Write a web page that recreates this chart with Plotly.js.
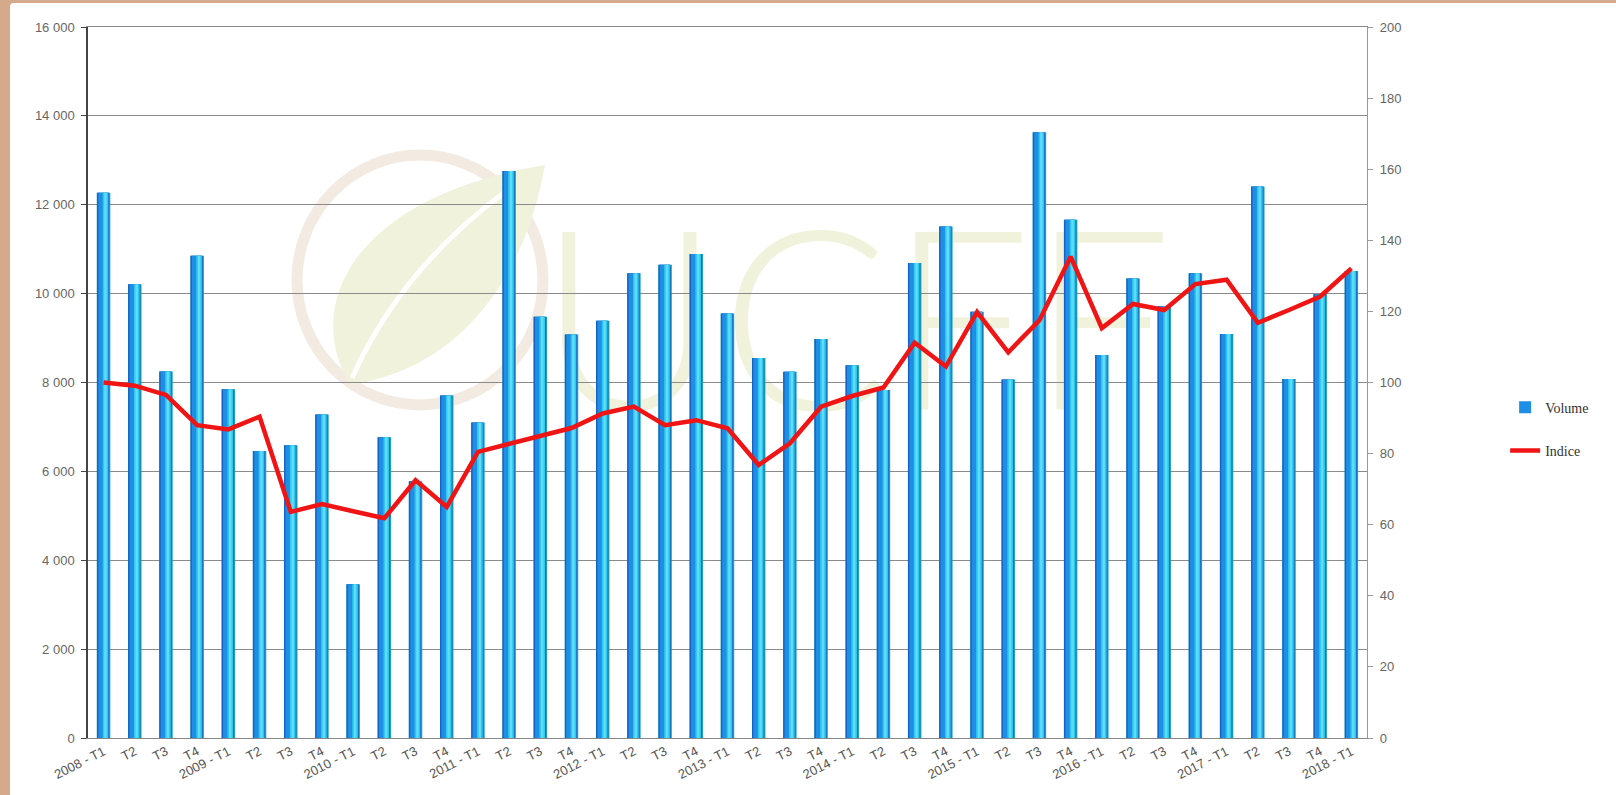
<!DOCTYPE html>
<html>
<head>
<meta charset="utf-8">
<script src="https://cdn.plot.ly/plotly-3.0.1.min.js"></script>
<style>
  html, body { margin: 0; padding: 0; background: #d4a98c; width: 1616px; height: 795px; overflow: hidden; }
  #chart { position: absolute; left: 10px; top: 3px; width: 1606px; height: 792px; background: #fff; border-top-left-radius: 4px; }
</style>
</head>
<body>
<div id="chart"></div>
<script>
// ---- data ----
const periods = [
  '2008-T1','2008-T2','2008-T3','2008-T4',
  '2009-T1','2009-T2','2009-T3','2009-T4',
  '2010-T1','2010-T2','2010-T3','2010-T4',
  '2011-T1','2011-T2','2011-T3','2011-T4',
  '2012-T1','2012-T2','2012-T3','2012-T4',
  '2013-T1','2013-T2','2013-T3','2013-T4',
  '2014-T1','2014-T2','2014-T3','2014-T4',
  '2015-T1','2015-T2','2015-T3','2015-T4',
  '2016-T1','2016-T2','2016-T3','2016-T4',
  '2017-T1','2017-T2','2017-T3','2017-T4',
  '2018-T1'
];
const tickLabels = [
  '2008 - T1','T2','T3','T4',
  '2009 - T1','T2','T3','T4',
  '2010 - T1','T2','T3','T4',
  '2011 - T1','T2','T3','T4',
  '2012 - T1','T2','T3','T4',
  '2013 - T1','T2','T3','T4',
  '2014 - T1','T2','T3','T4',
  '2015 - T1','T2','T3','T4',
  '2016 - T1','T2','T3','T4',
  '2017 - T1','T2','T3','T4',
  '2018 - T1'
];
const volume = [
  12270, 10210, 8250, 10850,
  7850, 6460, 6590, 7280,
  3460, 6770, 5780, 7710,
  7100, 12760, 9480, 9080,
  9390, 10460, 10650, 10890,
  9550, 8550, 8240, 8980,
  8390, 7830, 10690, 11510,
  9590, 8070, 13630, 11660,
  8620, 10340, 9720, 10460,
  9090, 12410, 8080, 9990,
  10510
];
const indice = [
  100, 99.1, 96.5, 88.0,
  86.8, 90.4, 63.6, 65.8,
  63.8, 61.8, 72.5, 65.0,
  80.5, 82.7, 84.7, 87.2,
  91.3, 93.2, 88.0, 89.4,
  87.1, 76.8, 82.9, 93.2,
  96.2, 98.6, 111.2, 104.5,
  119.8, 108.5, 117.5, 135.4,
  115.3, 122.1, 120.4, 127.7,
  128.9, 116.8, 120.4, 124.2,
  132.1
];
const leftTicks = [0, 2000, 4000, 6000, 8000, 10000, 12000, 14000, 16000];

// ---- cylinder-like bars built from layered bar traces ----
const layers = [
  {offset: -0.215, width: 0.43, color: '#1b9fb2', legend: false},
  {offset: -0.215, width: 0.39, color: '#1662c4', legend: false},
  {offset: -0.17,  width: 0.32, color: '#1e8fe4', legend: true},
  {offset: -0.03,  width: 0.18, color: '#2fc6ef', legend: false},
  {offset: 0.02,   width: 0.08, color: '#5fdcf6', legend: false}
];
const traces = layers.map(l => ({
  type: 'bar', x: periods, y: volume, name: 'Volume',
  legendgroup: 'vol', showlegend: l.legend,
  width: l.width, offset: l.offset,
  marker: {color: l.color, line: {width: 0}},
  hoverinfo: l.legend ? 'x+y' : 'skip'
}));
traces.push({
  type: 'scatter', mode: 'lines', x: periods, y: indice, yaxis: 'y2',
  name: 'Indice', legendgroup: 'ind',
  line: {color: '#f01414', width: 4.5}
});

// ---- watermark (decoration, pixel -> paper helpers) ----
const PL = 88, PT = 27, PW = 1279, PH = 711;
const px = x => (x - PL) / PW;
const py = y => 1 - (y - PT) / PH;
const pt = (x, y) => px(x).toFixed(4) + ',' + py(y).toFixed(4);
const shapes = [
  {type: 'circle', xref: 'paper', yref: 'paper', layer: 'below',
   x0: px(297), x1: px(543), y0: py(405), y1: py(155),
   line: {color: '#f3ebe2', width: 11}, fillcolor: 'rgba(0,0,0,0)'},
  {type: 'path', xref: 'paper', yref: 'paper', layer: 'below',
   path: 'M' + pt(350, 385) + ' C' + pt(300, 300) + ' ' + pt(360, 195) + ' ' + pt(545, 165) +
         ' C' + pt(530, 250) + ' ' + pt(480, 365) + ' ' + pt(350, 385) + ' Z',
   fillcolor: '#f0f2dc', line: {width: 0}},
  {type: 'path', xref: 'paper', yref: 'paper', layer: 'below',
   path: 'M' + pt(352, 378) + ' Q' + pt(400, 270) + ' ' + pt(505, 192),
   line: {color: '#ffffff', width: 5}},
  {type: 'rect', xref: 'paper', yref: 'paper', layer: 'below',
   x0: px(560), x1: px(1150), y0: py(420), y1: py(200),
   line: {width: 0}, fillcolor: 'rgba(0,0,0,0)',
   label: {text: 'UCFF', textposition: 'middle center',
           font: {family: 'Lato', size: 250, color: '#f0f2dc', weight: 300}}}
];

const tickFont = {family: 'Liberation Sans, Arial, sans-serif', size: 13, color: '#666'};

const layout = {
  width: 1606, height: 792,
  margin: {l: 78, r: 249, t: 24, b: 57},
  paper_bgcolor: 'rgba(0,0,0,0)', plot_bgcolor: 'rgba(0,0,0,0)',
  separators: ', ',
  barmode: 'overlay',
  showlegend: true,
  legend: {x: 1.108, y: 0.487, xanchor: 'left', yanchor: 'top',
           traceorder: 'grouped', tracegroupgap: 22,
           font: {family: 'Liberation Serif, Times New Roman, serif', size: 14, color: '#333'},
           bgcolor: 'rgba(0,0,0,0)'},
  xaxis: {
    tickmode: 'array', tickvals: periods, ticktext: tickLabels,
    tickangle: -27, tickfont: {family: 'Liberation Sans, Arial, sans-serif', size: 13, color: '#555'},
    showline: true, mirror: true, linecolor: '#888', linewidth: 1.4, ticks: '', showgrid: false,
    range: [-0.5, periods.length - 0.5], fixedrange: true
  },
  yaxis: {
    range: [0, 16000], tickmode: 'array', tickvals: leftTicks,
    separatethousands: true, tickformat: ',d',
    tickfont: tickFont, showgrid: true, gridcolor: '#8a8a8a', gridwidth: 1.3,
    showline: true, linecolor: '#444', linewidth: 1.5,
    ticks: 'outside', ticklen: 5, tickcolor: '#444', ticklabelstandoff: 4,
    zeroline: false, fixedrange: true
  },
  yaxis2: {
    overlaying: 'y', side: 'right', range: [0, 200], dtick: 20, tick0: 0,
    tickfont: tickFont, showgrid: false, showline: true, linecolor: '#9a9a9a', linewidth: 1.2,
    ticks: 'outside', ticklen: 5, tickcolor: '#9a9a9a', ticklabelstandoff: 4,
    zeroline: false, fixedrange: true
  },
  shapes: shapes
};

Plotly.newPlot('chart', traces, layout, {displayModeBar: false});
</script>
</body>
</html>
